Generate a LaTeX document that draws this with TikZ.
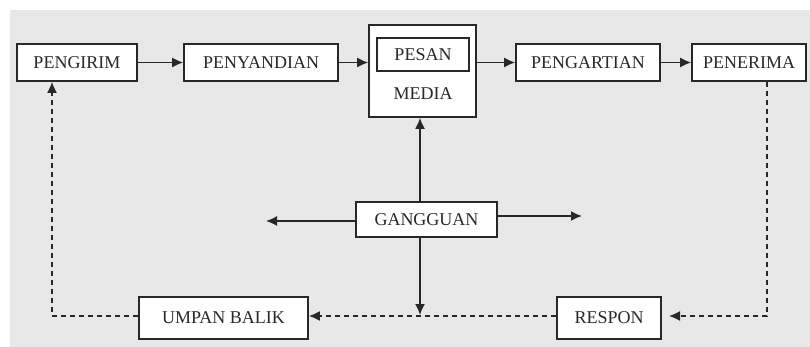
\documentclass[tikz,border=0pt]{standalone}
\usepackage{fontspec}
\setmainfont{Liberation Serif}
\usetikzlibrary{arrows.meta}
\definecolor{bgc}{RGB}{232,232,232}
\definecolor{ink}{RGB}{40,40,40}
\begin{document}
\begin{tikzpicture}[x=1pt,y=-1pt,
  box/.style={draw=ink,line width=1.6pt,fill=white,inner sep=0pt,font=\fontsize{18}{20}\selectfont,text=ink},
  arr/.style={draw=ink,line width=1.6pt,-{Latex[length=11pt,width=10pt]}},
  darr/.style={arr,dash pattern=on 5pt off 4pt},
  dline/.style={draw=ink,line width=1.6pt,dash pattern=on 5pt off 4pt}]
\useasboundingbox (0,0) rectangle (810,347);
\fill[white] (0,0) rectangle (810,347);
\fill[bgc] (10,10) rectangle (810,347);
\node[box,minimum width=120pt,minimum height=37pt] (peng) at (77,62.5) {PENGIRIM};
\node[box,minimum width=154pt,minimum height=37pt] (peny) at (261,62.5) {PENYANDIAN};
\node[box,minimum width=107pt,minimum height=92pt] (med) at (422.5,71) {};
\node[box,minimum width=92pt,minimum height=33pt] (pes) at (423,54.5) {PESAN};
\node[font=\fontsize{18}{20}\selectfont,text=ink,inner sep=0pt] (medt) at (423,94) {MEDIA};
\node[box,minimum width=144pt,minimum height=37pt] (part) at (588,62.5) {PENGARTIAN};
\node[box,minimum width=114pt,minimum height=37pt] (pen) at (749,62.5) {PENERIMA};
\node[box,minimum width=141pt,minimum height=35pt] (gang) at (426.5,219.5) {GANGGUAN};
\node[box,minimum width=169pt,minimum height=42pt] (umb) at (223.5,318) {UMPAN BALIK};
\node[box,minimum width=104pt,minimum height=42pt] (res) at (609,318) {RESPON};
\coordinate (vx) at (420,0);
\coordinate (dn) at (420,315);
\coordinate (lt) at (266,221);
\coordinate (rt) at (582,216);
\coordinate (rc) at (767,316);
\coordinate (rtip) at (669,316);
\coordinate (lc) at (52,316);
\draw[arr] (peng) -- (peny);
\draw[arr] (peny.east) -- (peny.east -| med.west);
\draw[arr] (med.east |- part) -- (part.west);
\draw[arr] (part) -- (pen);
\draw[arr] (gang.north -| vx) -- (med.south -| vx);
\draw[arr] (gang.south -| vx) -- (dn);
\draw[arr] (gang.west |- lt) -- (lt);
\draw[arr] (gang.east |- rt) -- (rt);
\draw[darr] (pen.south -| rc) -- (rc) -- (rtip);
\draw[darr] (res.west |- lc) -- (umb.east |- lc);
\draw[darr] (umb.west |- lc) -- (lc) -- (peng.south -| lc);
\end{tikzpicture}
\end{document}
